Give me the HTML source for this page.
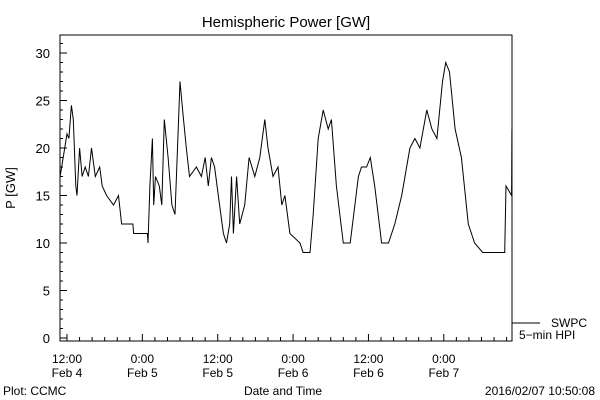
<!DOCTYPE html>
<html><head><meta charset="utf-8"><style>
body{margin:0;background:#fff}
svg{display:block;font-family:"Liberation Sans",sans-serif}
</style></head><body>
<svg id="chart" width="600" height="400" viewBox="0 0 600 400" xmlns="http://www.w3.org/2000/svg">
<rect width="600" height="400" fill="#fff"/>
<text x="286" y="27" font-size="15" text-anchor="middle">Hemispheric Power [GW]</text>
<text transform="translate(15,188) rotate(-90)" font-size="13" text-anchor="middle">P [GW]</text>
<text x="283" y="395" font-size="12" text-anchor="middle">Date and Time</text>
<text x="3" y="395" font-size="12">Plot: CCMC</text>
<text x="595" y="395" font-size="12" text-anchor="end">2016/02/07 10:50:08</text>
<g id="axes"></g>
<rect x="60" y="35" width="452" height="306" fill="none" stroke="#000" stroke-width="1"/>
<g>
<line x1="512" y1="323" x2="540" y2="323" stroke="#000" stroke-width="1"/>
<text x="551" y="327" font-size="12">SWPC</text>
<text x="519" y="339" font-size="12">5−min HPI</text>
</g>
</svg>
<script>
const hours=[10.9,11.4,12,12.3,12.7,13,13.4,13.6,14,14.4,14.9,15.4,15.9,16.5,17.2,17.6,18.3,19.4,20.2,20.7,22.5,22.6,24.8,24.9,25.2,25.6,25.8,26.1,26.7,27.1,27.5,28.1,28.7,29.2,30,30.4,31,31.5,32.6,33.4,34,34.5,35,35.5,36.1,36.9,37.4,37.9,38.2,38.5,39,39.5,40.3,41,41.9,42.7,43.5,44,44.8,45.6,46.2,46.7,47.5,49.1,49.6,50.7,51.2,52,52.8,53.6,54.1,54.9,56,57.1,58.4,58.9,59.7,60.3,61,62.1,63.2,64.2,65.3,66.6,67.4,68.2,69.3,70.1,70.9,71.8,72.3,72.9,73.8,74.8,75.9,76.9,78.2,81.7,81.9,82.8,82.85];
const values=[17,19,21.5,21,24.5,23,16,15,20,17,18,17,20,17,18,16,15,14,15,12,12,11,11,10,16,21,14,17,16,14,23,19,14,13,27,24,20,17,18,17,19,16,19,18,15,11,10,12,17,11,17,12,14,19,17,19,23,20,17,18,14,15,11,10,9,9,13,21,24,22,23,16,10,10,17,18,18,19,16,10,10,12,15,20,21,20,24,22,21,27,29,28,22,19,12,10,9,9,16,15,22];
const yTicks=[0,5,10,15,20,25,30];
const xTickHours=[12,24,36,48,60,72];
const xTickTimes=["12:00","0:00","12:00","0:00","12:00","0:00"];
const xTickDates=["Feb 4","Feb 5","Feb 5","Feb 6","Feb 6","Feb 7"];
const NS="http://www.w3.org/2000/svg";
const X=h=>67+(h-12)*6.28;
const Y=v=>338-9.5*v;
const g=document.getElementById('axes');
function mk(t,a,p){const e=document.createElementNS(NS,t);for(const k in a)e.setAttribute(k,a[k]);(p||g).appendChild(e);return e;}
for(let v=0;v<=31;v++){
  const l=mk('line',{x1:60,x2:v%5===0?67:63,y1:Y(v),y2:Y(v),stroke:'#000'});
  
  
}
yTicks.forEach(v=>{
  const t=mk('text',{x:50,y:Y(v)+5,'font-size':13,'text-anchor':'end'});
  
  
  t.textContent=v;
});
for(let h=12;h<=82;h+=2){
  const l=mk('line',{x1:X(h),x2:X(h),y1:341,y2:h%12===0?334:337,stroke:'#000'});
  
  
}
xTickHours.forEach((h,i)=>{
  const t=mk('text',{x:X(h),y:363,'font-size':12,'text-anchor':'middle'});
  
  
  t.textContent=xTickTimes[i];
  const d=mk('text',{x:X(h),y:377,'font-size':12,'text-anchor':'middle'});
  
  
  d.textContent=xTickDates[i];
});
const pts=hours.map((h,i)=>X(h).toFixed(1)+','+Y(values[i]).toFixed(1)).join(' ');
const pl=mk('polyline',{points:pts,fill:'none',stroke:'#000','stroke-width':1});


</script>
</body></html>
